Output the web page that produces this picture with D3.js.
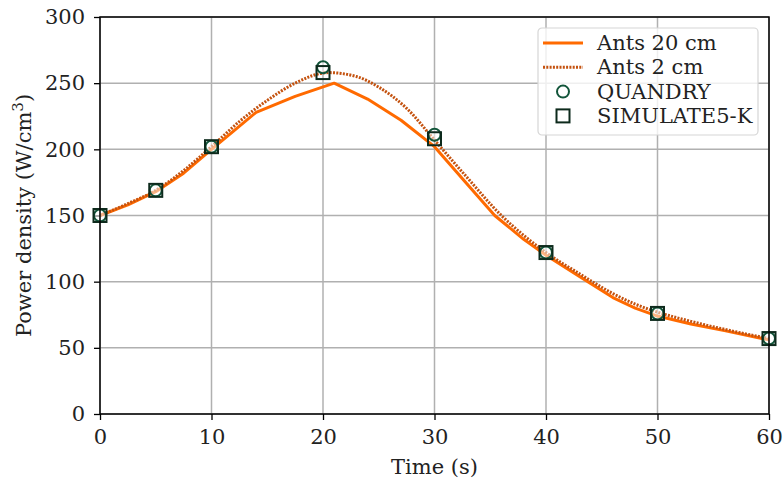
<!DOCTYPE html>
<html>
<head>
<meta charset="utf-8">
<script src="https://cdn.jsdelivr.net/npm/d3@7"></script>
<style>
  body { margin: 0; background: #fff; }
  svg { display: block; }
  text { font-family: 'DejaVu Serif', serif; }
</style>
</head>
<body>
<div id="chart"></div>
<script>
// Ants 20 cm (solid)
const ants20Time = [0, 2.5, 5, 7.5, 10, 12, 14, 17.5, 21, 24, 27, 30, 33, 35.4, 38, 40, 43, 46, 48, 50, 53, 56, 60];
const ants20Power = [150, 158, 168, 182, 200, 214, 228, 240, 250, 238, 222, 202, 173, 150, 132, 120, 104, 88, 80, 74, 68, 63, 56];

// Ants 2 cm (dotted)
const ants2Time = [0, 2.5, 5, 7.5, 10, 12.5, 15, 17.5, 20.5, 23, 25, 27.5, 30, 33, 36, 38, 40, 43, 46, 48, 50, 53, 56, 60];
const ants2Power = [150, 159, 169, 184, 202, 221, 237, 250, 258, 255, 247, 231, 207, 178, 150, 135, 122, 106, 91, 83, 77, 70, 64, 57];

// reference codes
const refTime = [0, 5, 10, 20, 30, 40, 50, 60];
const quandryPower = [150, 169, 202, 262, 211, 122, 76, 57];
const simulatePower = [150, 169, 202, 258, 208, 122, 76, 57];

const xTicks = [0, 10, 20, 30, 40, 50, 60];
const yTicks = [0, 50, 100, 150, 200, 250, 300];

const width = 783;
const height = 481;
const margin = { top: 17, right: 14, bottom: 67, left: 100 };
const fontSize = 21;

const x = d3.scaleLinear().domain([0, 60]).range([margin.left, width - margin.right]);
const y = d3.scaleLinear().domain([0, 300]).range([height - margin.bottom, margin.top]);

const svg = d3.select('#chart')
  .append('svg')
  .attr('width', width)
  .attr('height', height);

// grid
svg.append('g')
  .selectAll('line')
  .data(xTicks)
  .enter()
  .append('line')
  .attr('x1', d => x(d)).attr('x2', d => x(d))
  .attr('y1', y(0)).attr('y2', y(300))
  .attr('stroke', '#b0b0b0')
  .attr('stroke-width', 1.5);

svg.append('g')
  .selectAll('line')
  .data(yTicks)
  .enter()
  .append('line')
  .attr('x1', x(0)).attr('x2', x(60))
  .attr('y1', d => y(d)).attr('y2', d => y(d))
  .attr('stroke', '#b0b0b0')
  .attr('stroke-width', 1.5);

// axes
const xAxis = svg.append('g')
  .attr('transform', `translate(0, ${y(0)})`)
  .call(d3.axisBottom(x).tickValues(xTicks).tickSize(6).tickPadding(9));
const yAxis = svg.append('g')
  .attr('transform', `translate(${x(0)}, 0)`)
  .call(d3.axisLeft(y).tickValues(yTicks).tickSize(6).tickPadding(9));

[xAxis, yAxis].forEach((ax) => {
  ax.select('.domain').remove();
  ax.selectAll('line').attr('stroke', '#000').attr('stroke-width', 1.3);
  ax.selectAll('text')
    .attr('font-family', 'DejaVu Serif')
    .attr('font-size', fontSize)
    .attr('fill', '#222');
});

// series lines
const line = d3.line()
  .x(d => x(d[0]))
  .y(d => y(d[1]));

svg.append('path')
  .datum(ants20Time.map((t, i) => [t, ants20Power[i]]))
  .attr('fill', 'none')
  .attr('stroke', '#ff6a00')
  .attr('stroke-width', 3)
  .attr('stroke-linejoin', 'round')
  .attr('d', line);

svg.append('path')
  .datum(ants2Time.map((t, i) => [t, ants2Power[i]]))
  .attr('fill', 'none')
  .attr('stroke', '#c4520f')
  .attr('stroke-width', 3)
  .attr('stroke-dasharray', '2,1.3')
  .attr('d', line.curve(d3.curveMonotoneX));

// markers
const markerColorCircle = '#12553a';
const markerColorSquare = '#0d2a1c';

svg.append('g')
  .selectAll('circle')
  .data(refTime.map((t, i) => [t, quandryPower[i]]))
  .enter()
  .append('circle')
  .attr('cx', d => x(d[0]))
  .attr('cy', d => y(d[1]))
  .attr('r', 6)
  .attr('fill', '#fff')
  .attr('fill-opacity', 0.5)
  .attr('stroke', markerColorCircle)
  .attr('stroke-width', 2);

svg.append('g')
  .selectAll('rect')
  .data(refTime.map((t, i) => [t, simulatePower[i]]))
  .enter()
  .append('rect')
  .attr('x', d => x(d[0]) - 6.5)
  .attr('y', d => y(d[1]) - 6.5)
  .attr('width', 13)
  .attr('height', 13)
  .attr('fill', 'none')
  .attr('stroke', markerColorSquare)
  .attr('stroke-width', 2);

// frame
svg.append('rect')
  .attr('x', x(0))
  .attr('y', y(300))
  .attr('width', x(60) - x(0))
  .attr('height', y(0) - y(300))
  .attr('fill', 'none')
  .attr('stroke', '#000')
  .attr('stroke-width', 1.5);

// axis labels
svg.append('text')
  .attr('x', (x(0) + x(60)) / 2)
  .attr('y', 474)
  .attr('text-anchor', 'middle')
  .attr('font-size', fontSize)
  .attr('fill', '#222')
  .text('Time (s)');

const yLabel = svg.append('text')
  .attr('transform', `translate(31, ${(y(0) + y(300)) / 2}) rotate(-90)`)
  .attr('text-anchor', 'middle')
  .attr('font-size', fontSize)
  .attr('fill', '#222');
yLabel.append('tspan').text('Power density (W/cm');
yLabel.append('tspan').attr('dy', -8).attr('font-size', 15).text('3');
yLabel.append('tspan').attr('dy', 8).text(')');

// legend
const legend = svg.append('g').attr('transform', 'translate(538, 28)');
legend.append('rect')
  .attr('width', 220)
  .attr('height', 107)
  .attr('rx', 4)
  .attr('fill', '#fff')
  .attr('fill-opacity', 0.8)
  .attr('stroke', '#d6d6d6')
  .attr('stroke-width', 1.2);

const legendRows = ['Ants 20 cm', 'Ants 2 cm', 'QUANDRY', 'SIMULATE5-K'];
legendRows.forEach((name, i) => {
  const cy = 15 + i * 24.3;
  if (i === 0) {
    legend.append('line').attr('x1', 5).attr('x2', 45).attr('y1', cy).attr('y2', cy)
      .attr('stroke', '#ff6a00').attr('stroke-width', 3);
  } else if (i === 1) {
    legend.append('line').attr('x1', 5).attr('x2', 45).attr('y1', cy).attr('y2', cy)
      .attr('stroke', '#c4520f').attr('stroke-width', 3).attr('stroke-dasharray', '2,1.3');
  } else if (i === 2) {
    legend.append('circle').attr('cx', 25).attr('cy', cy).attr('r', 6)
      .attr('fill', 'none').attr('stroke', markerColorCircle).attr('stroke-width', 2);
  } else {
    legend.append('rect').attr('x', 18.5).attr('y', cy - 6.5).attr('width', 13).attr('height', 13)
      .attr('fill', 'none').attr('stroke', markerColorSquare).attr('stroke-width', 2);
  }
  legend.append('text')
    .attr('x', 59)
    .attr('y', cy + 7)
    .attr('font-size', fontSize)
    .attr('fill', '#222')
    .text(name);
});
</script>
</body>
</html>
